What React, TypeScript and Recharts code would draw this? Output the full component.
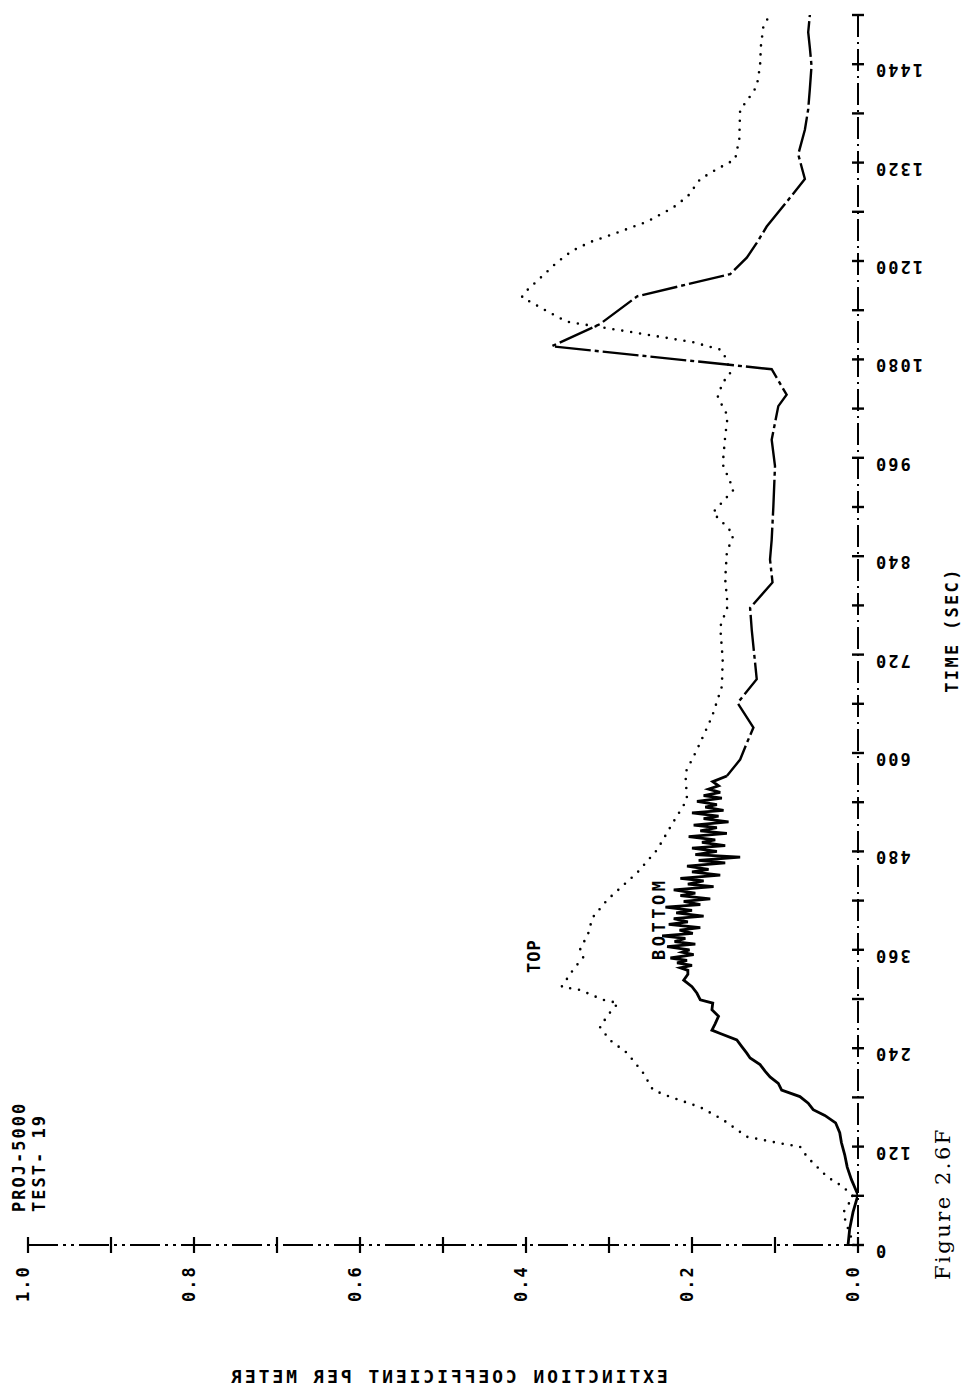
import { LineChart, Line, XAxis, YAxis } from 'recharts'

// smoke extinction, top and bottom sensors (per meter) against time in seconds
const topSec = [
  0, 20, 39, 59, 71, 83, 107, 120, 124, 132, 153, 168, 181, 189, 210, 234, 250, 266, 282, 295,
  299, 311, 315, 336, 351, 360, 380, 399, 421, 454, 482, 515, 543, 576, 604, 644, 681, 714, 754,
  779, 812, 845, 866, 876, 893, 912, 921, 952, 986, 1011, 1034, 1052, 1062, 1080, 1092, 1101,
  1113, 1126, 1139, 1156, 1165, 1181, 1198, 1212, 1223, 1235, 1248, 1265, 1279, 1300, 1312,
  1324, 1349, 1385, 1395, 1413, 1438, 1462, 1486, 1497,
]
const topExt = [
  0.005, 0.012, 0.018, 0.006, 0.018, 0.037, 0.061, 0.07, 0.094, 0.134, 0.163, 0.19, 0.227, 0.247,
  0.259, 0.278, 0.299, 0.311, 0.3, 0.289, 0.307, 0.335, 0.357, 0.343, 0.331, 0.335, 0.325, 0.32,
  0.302, 0.266, 0.242, 0.223, 0.206, 0.208, 0.194, 0.176, 0.164, 0.163, 0.166, 0.157, 0.16, 0.158,
  0.15, 0.158, 0.175, 0.158, 0.15, 0.163, 0.16, 0.157, 0.169, 0.163, 0.154, 0.158, 0.166, 0.199,
  0.271, 0.351, 0.375, 0.405, 0.398, 0.381, 0.363, 0.345, 0.323, 0.289, 0.254, 0.223, 0.205, 0.19,
  0.17, 0.148, 0.143, 0.142, 0.134, 0.122, 0.118, 0.117, 0.114, 0.108,
]

const bottomSec = [
  0, 20, 40, 61, 80, 95, 110, 125, 137, 149, 158, 165, 173, 181, 189, 197, 205, 212, 220, 228,
  234, 242, 250, 258, 262, 270, 279, 287, 295, 299, 307, 315, 323, 330,
  335, 338, 341, 344, 347, 350, 354, 357, 360, 364, 367, 370, 374, 377, 380, 384, 387, 391, 394,
  398, 401, 405, 408, 412, 415, 419, 422, 426, 429, 433, 437, 440, 444, 447, 451, 455, 458, 462,
  466, 469, 473, 476, 480, 484, 487, 491, 494, 498, 502, 505, 509, 512, 516, 520, 523, 527, 530,
  534, 537, 541, 545, 548, 552, 556, 560, 565,
  572, 592, 612, 631, 661, 690, 720, 750, 777, 808, 836, 860, 900, 950, 982, 1023, 1037, 1068,
  1096, 1123, 1157, 1184, 1204, 1222, 1242, 1272, 1300, 1315, 1330, 1360, 1385, 1410, 1438, 1460,
  1479, 1500,
]
const bottomExt = [
  0.012, 0.01, 0.006, 0.0, 0.008, 0.013, 0.016, 0.02, 0.022, 0.027, 0.04, 0.054, 0.06, 0.07, 0.092,
  0.096, 0.106, 0.112, 0.118, 0.13, 0.134, 0.14, 0.146, 0.166, 0.176, 0.172, 0.168, 0.176, 0.175,
  0.19, 0.194, 0.2, 0.21, 0.205,
  0.205, 0.214, 0.2, 0.218, 0.206, 0.226, 0.198, 0.212, 0.203, 0.23, 0.196, 0.221, 0.208, 0.236,
  0.199, 0.215, 0.19, 0.228, 0.205, 0.222, 0.186, 0.219, 0.2, 0.232, 0.19, 0.21, 0.178, 0.214,
  0.196, 0.222, 0.174, 0.205, 0.186, 0.214, 0.166, 0.2, 0.18, 0.206, 0.16, 0.192, 0.142, 0.196,
  0.17, 0.2, 0.16, 0.188, 0.172, 0.204, 0.158, 0.19, 0.17, 0.198, 0.156, 0.186, 0.168, 0.2, 0.162,
  0.184, 0.17, 0.194, 0.164, 0.186, 0.166, 0.18, 0.168, 0.175,
  0.158, 0.142, 0.134, 0.126, 0.145, 0.122, 0.125, 0.128, 0.13, 0.103, 0.106, 0.104, 0.102, 0.1,
  0.104, 0.096, 0.086, 0.104, 0.369, 0.311, 0.266, 0.154, 0.134, 0.122, 0.11, 0.086, 0.064, 0.068,
  0.072, 0.064, 0.06, 0.058, 0.056, 0.058, 0.06, 0.058,
]

// the plotter switched the bottom trace to a dashed pen here
const penChangeSec = 572

const extTicks = [0, 0.1, 0.2, 0.3, 0.4, 0.5, 0.6, 0.7, 0.8, 0.9, 1.0]
const extLabels = ['0.0', '', '0.2', '', '0.4', '', '0.6', '', '0.8', '', '1.0']
const timeTicks = [
  0, 60, 120, 180, 240, 300, 360, 420, 480, 540, 600, 660, 720, 780, 840, 900, 960, 1020, 1080,
  1140, 1200, 1260, 1320, 1380, 1440, 1500,
]
const timeLabels = [
  '0', '', '120', '', '240', '', '360', '', '480', '', '600', '', '720', '', '840', '', '960', '',
  '1080', '', '1200', '', '1320', '', '1440', '',
]

const topData = topSec.map((t, i) => ({ t, e: topExt[i] }))
const bottomData = bottomSec.map((t, i) => ({ t, e: bottomExt[i] }))
const bottomSolid = bottomData.filter((d) => d.t <= penChangeSec)
const bottomDashed = bottomData.filter((d) => d.t >= penChangeSec)

const plotter = '"DejaVu Sans Mono", monospace'

function ExtTick(props: any) {
  const { x, y, index } = props
  const label = extLabels[index]
  const lx = x + 1
  const ly = y + 57
  return (
    <g>
      <line x1={x} y1={y - 8} x2={x} y2={y + 8} stroke="#000" strokeWidth={2.2} />
      {label && (
        <text
          x={lx}
          y={ly}
          fontFamily={plotter}
          fontWeight="bold"
          fontSize={17}
          letterSpacing={2}
          fill="#000"
          transform={`rotate(-90, ${lx}, ${ly})`}
        >
          {label}
        </text>
      )}
    </g>
  )
}

function TimeTick(props: any) {
  const { x, y, index } = props
  const label = timeLabels[index]
  const lx = x + 16
  return (
    <g>
      <line x1={x - 6} y1={y} x2={x + 6} y2={y} stroke="#000" strokeWidth={2.4} />
      {label && (
        <text
          x={lx}
          y={y}
          textAnchor="end"
          fontFamily={plotter}
          fontWeight="bold"
          fontSize={17}
          letterSpacing={2}
          fill="#000"
          transform={`rotate(180, ${lx}, ${y})`}
        >
          {label}
        </text>
      )}
    </g>
  )
}

export default function App() {
  return (
    <div style={{ position: 'absolute', left: 0, top: 0, width: 963, height: 1391, background: '#fff' }}>
      <LineChart width={963} height={1391} margin={{ top: 15, right: 45, bottom: 86, left: 28 }}>
        <XAxis
          type="number"
          dataKey="e"
          domain={[0, 1]}
          reversed
          allowDataOverflow
          ticks={extTicks}
          interval={0}
          tickLine={false}
          tickSize={0}
          tickMargin={0}
          tick={<ExtTick />}
          height={60}
          axisLine={{ stroke: '#000', strokeWidth: 2, strokeDasharray: '30 5 3 5 3 5' }}
        />
        <YAxis
          type="number"
          orientation="right"
          domain={[0, 1500]}
          allowDataOverflow
          ticks={timeTicks}
          interval={0}
          tickLine={false}
          tickSize={0}
          tickMargin={0}
          tick={<TimeTick />}
          width={60}
          axisLine={{ stroke: '#000', strokeWidth: 2, strokeDasharray: '22 5 2 5' }}
        />
        <Line
          data={topData}
          dataKey="t"
          type="linear"
          stroke="#000"
          strokeWidth={2.6}
          strokeDasharray="0 9"
          strokeLinecap="round"
          dot={false}
          isAnimationActive={false}
        />
        <Line
          data={bottomSolid}
          dataKey="t"
          type="linear"
          stroke="#000"
          strokeWidth={2.8}
          strokeLinejoin="miter"
          dot={false}
          isAnimationActive={false}
        />
        <Line
          data={bottomDashed}
          dataKey="t"
          type="linear"
          stroke="#000"
          strokeWidth={2.4}
          strokeDasharray="36 4 4 4"
          dot={false}
          isAnimationActive={false}
        />
      </LineChart>
      <svg
        width={963}
        height={1391}
        style={{ position: 'absolute', left: 0, top: 0, pointerEvents: 'none' }}
      >
        <g fontFamily={plotter} fontWeight="bold" fill="#000">
          <text x={25} y={1212} fontSize={17} letterSpacing={2} transform="rotate(-90, 25, 1212)">
            PROJ-5000
          </text>
          <text x={45} y={1212} fontSize={17} letterSpacing={2} transform="rotate(-90, 45, 1212)">
            TEST- 19
          </text>
          <text x={540} y={973} fontSize={17} letterSpacing={1} transform="rotate(-90, 540, 973)">
            TOP
          </text>
          <text x={665} y={960} fontSize={17} letterSpacing={3.5} transform="rotate(-90, 665, 960)">
            BOTTOM
          </text>
          <text
            x={958}
            y={630}
            fontSize={17}
            letterSpacing={2.3}
            textAnchor="middle"
            transform="rotate(-90, 958, 630)"
          >
            TIME (SEC)
          </text>
          <text
            x={448}
            y={1383}
            fontSize={18}
            letterSpacing={2.9}
            textAnchor="middle"
            transform="translate(896, 0) scale(-1, 1)"
          >
            EXTINCTION COEFFICIENT PER METER
          </text>
        </g>
        <text
          x={950}
          y={1280}
          fontFamily={'"DejaVu Serif", serif'}
          fontSize={21}
          letterSpacing={2.5}
          fill="#000"
          transform="rotate(-90, 950, 1280)"
        >
          Figure 2.6F
        </text>
      </svg>
    </div>
  )
}
